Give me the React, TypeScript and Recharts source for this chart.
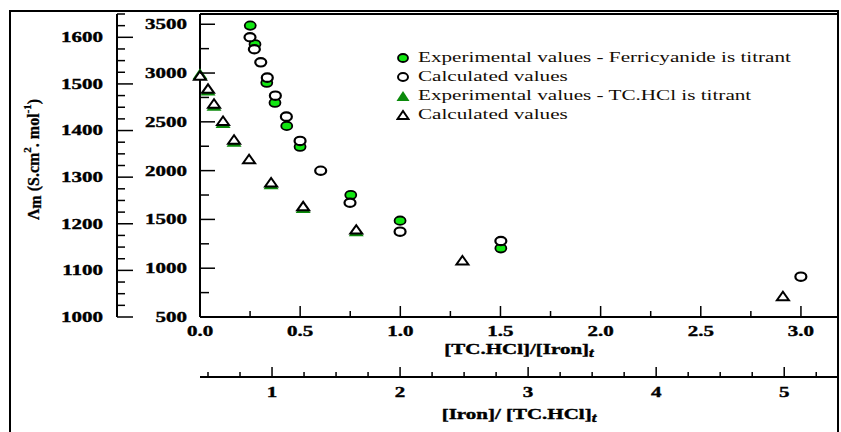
import React from 'react';
import { ScatterChart, Scatter, XAxis, YAxis, Legend } from 'recharts';

// Ferricyanide is titrant: x = [Iron]/[TC.HCl]t, y on the inner axis (500 - 3500)
const feRatioExp = [0.83, 0.867, 0.959, 1.023, 1.115, 1.219, 1.615, 2.0, 2.787];
const feLambdaExp = [3486, 3295, 2901, 2696, 2458, 2245, 1750, 1487, 1204];
const feRatioCalc = [0.828, 0.862, 0.912, 0.963, 1.026, 1.112, 1.219, 1.38, 1.609, 2.0, 2.787, 5.13];
const feLambdaCalc = [3367, 3244, 3110, 2953, 2768, 2553, 2304, 1999, 1671, 1374, 1279, 913];

// TC.HCl is titrant: x = [TC.HCl]/[Iron]t, y on the outer axis (1000 - 1600)
const tcRatioExp = [0.0, 0.04, 0.07, 0.115, 0.17, 0.355, 0.515, 0.78];
const tcLambdaExp = [1522, 1487, 1454, 1417, 1377, 1286, 1235, 1185];
const tcRatioCalc = [0.0, 0.04, 0.07, 0.115, 0.17, 0.245, 0.355, 0.515, 0.78, 1.31, 2.91];
const tcLambdaCalc = [1518, 1490, 1458, 1421, 1381, 1339, 1289, 1238, 1188, 1122, 1045];

const seriesNames = [
  'Experimental values - Ferricyanide is titrant',
  'Calculated values',
  'Experimental values - TC.HCl is titrant',
  'Calculated values',
];

const steps = (from: number, to: number, step: number) => {
  const out: number[] = [];
  for (let v = from; v <= to + 1e-9; v += step) out.push(Math.round(v * 1000) / 1000);
  return out;
};

const outerTicks = steps(1000, 1650, 25);
const innerTicks = steps(500, 3500, 250);
const ratioTicks = steps(0, 3.0, 0.25);
const ironTicks = steps(0.5, 5.25, 0.25);

const toPoints = (xs: number[], ys: number[]) => xs.map((x, i) => ({ x, y: ys[i] }));

const GREEN = '#12e612';
const DARK_GREEN = '#0b8a0b';
const FONT = "'Liberation Serif', 'Times New Roman', serif";

const isMultiple = (v: number, m: number) => Math.abs(v / m - Math.round(v / m)) < 1e-6;

// bold, horizontally stretched label text like the scanned figure
const Stretch = ({ x, y, anchor = 'middle', size = 15, children }: any) => (
  <text
    transform={`translate(${x},${y}) scale(1.4,1)`}
    textAnchor={anchor}
    dominantBaseline="central"
    fontFamily={FONT}
    fontWeight="bold"
    fontSize={size}
    fill="#000"
    stroke="#000"
    strokeWidth={0.4}
  >
    {children}
  </text>
);

const OuterTick = ({ x, y, payload }: any) => {
  const major = isMultiple(payload.value, 100);
  return (
    <g>
      <line x1={x} y1={y} x2={x + (major ? 16 : 8)} y2={y} stroke="#000" strokeWidth={1.5} />
      {major && payload.value <= 1600 && <Stretch x={x - 14} y={y} anchor="end">{payload.value}</Stretch>}
    </g>
  );
};

const InnerTick = ({ x, y, payload }: any) => {
  const major = isMultiple(payload.value, 500);
  return (
    <g>
      <line x1={x} y1={y} x2={x + (major ? 15 : 9)} y2={y} stroke="#000" strokeWidth={1.5} />
      {major && <Stretch x={x - 13} y={y} anchor="end">{payload.value}</Stretch>}
    </g>
  );
};

const RatioTick = ({ x, y, payload }: any) => {
  const major = isMultiple(payload.value, 0.5);
  return (
    <g>
      <line x1={x} y1={y} x2={x} y2={y - (major ? 11 : 6)} stroke="#000" strokeWidth={1.5} />
      {major && <Stretch x={x} y={y + 14}>{payload.value.toFixed(1)}</Stretch>}
    </g>
  );
};

const IronTick = ({ x, y, payload }: any) => {
  const major = isMultiple(payload.value, 1);
  return (
    <g>
      <line x1={x} y1={y} x2={x} y2={y - (major ? 10 : 5)} stroke="#000" strokeWidth={1.5} />
      {major && <Stretch x={x} y={y + 15}>{payload.value}</Stretch>}
    </g>
  );
};

const ExpCircle = ({ cx, cy }: any) => (
  <ellipse cx={cx} cy={cy} rx={5.5} ry={4.2} fill={GREEN} stroke="#000" strokeWidth={1.8} />
);
const CalcCircle = ({ cx, cy }: any) => (
  <ellipse cx={cx} cy={cy} rx={5.5} ry={4.2} fill="#fff" stroke="#000" strokeWidth={2.2} />
);
const triPath = (cx: number, cy: number, w: number, h: number) =>
  `M${cx - w / 2},${cy + h / 2} L${cx + w / 2},${cy + h / 2} L${cx},${cy - h / 2} Z`;
const ExpTriangle = ({ cx, cy }: any) => <path d={triPath(cx, cy, 15, 11)} fill={DARK_GREEN} />;
const CalcTriangle = ({ cx, cy }: any) => (
  <path d={triPath(cx, cy, 12, 8.5)} fill="#fff" stroke="#000" strokeWidth={2} strokeLinejoin="miter" />
);

const legendMarkers = [
  <ellipse key="a" cx={7} cy={6} rx={5} ry={4} fill={GREEN} stroke="#000" strokeWidth={1.8} />,
  <ellipse key="b" cx={7} cy={6} rx={5} ry={4} fill="#fff" stroke="#000" strokeWidth={2} />,
  <path key="c" d={triPath(7, 6, 13, 10)} fill={DARK_GREEN} />,
  <path key="d" d={triPath(7, 6, 11, 8)} fill="#fff" stroke="#000" strokeWidth={2} />,
];

const renderLegend = () => (
  <div style={{ fontFamily: FONT, fontSize: 15, color: '#140d05' }}>
    {seriesNames.map((name, i) => (
      <div key={i} style={{ display: 'flex', alignItems: 'center', height: 19 }}>
        <svg width={14} height={12}>{legendMarkers[i]}</svg>
        <span
          style={{
            marginLeft: 8,
            display: 'inline-block',
            whiteSpace: 'nowrap',
            transform: 'scaleX(1.41)',
            transformOrigin: 'left center',
          }}
        >
          {name}
        </span>
      </div>
    ))}
  </div>
);

const YTitle = ({ viewBox }: any) => {
  const x = viewBox.x + 23;
  const y = viewBox.y + viewBox.height / 2 - 6;
  return (
    <text
      transform={`translate(${x},${y}) rotate(-90)`}
      textAnchor="middle"
      dominantBaseline="central"
      fontFamily={FONT}
      fontWeight="bold"
      fontSize={16}
      fill="#000"
      stroke="#000"
      strokeWidth={0.3}
    >
      Λ<tspan dy={2}>m</tspan>
      <tspan dy={-2}> (S.cm</tspan>
      <tspan dy={-6} fontSize={11}>2</tspan>
      <tspan dy={6}>. mol</tspan>
      <tspan dy={-6} fontSize={11}>-1</tspan>
      <tspan dy={6}>)</tspan>
    </text>
  );
};

const RatioTitle = ({ viewBox }: any) => (
  <Stretch x={viewBox.x + viewBox.width / 2} y={viewBox.y + 32}>
    [TC.HCl]/[Iron]<tspan dy={4} fontSize={12} fontStyle="italic">t</tspan>
  </Stretch>
);

const IronTitle = ({ viewBox }: any) => (
  <Stretch x={viewBox.x + viewBox.width / 2} y={viewBox.y + 37}>
    [Iron]/ [TC.HCl]<tspan dy={4} fontSize={12} fontStyle="italic">t</tspan>
  </Stretch>
);

export default function App() {
  const axisLine = { stroke: '#000', strokeWidth: 2 };
  return (
    <div style={{ position: 'absolute', left: 0, top: 0, width: 841, height: 432, background: '#fff' }}>
      <ScatterChart width={841} height={432} margin={{ top: 14, right: 3, bottom: 0, left: 10 }}>
        <XAxis
          xAxisId="a_ratio"
          type="number"
          dataKey="x"
          domain={[0, 3.185]}
          ticks={ratioTicks}
          height={60}
          axisLine={axisLine}
          tickLine={false}
          tickSize={0}
          tickMargin={0}
          tick={<RatioTick />}
          interval={0}
          label={{ content: RatioTitle }}
        />
        <XAxis
          xAxisId="b_iron"
          type="number"
          dataKey="x"
          domain={[0.4375, 5.42]}
          ticks={ironTicks}
          height={55}
          axisLine={axisLine}
          tickLine={false}
          tickSize={0}
          tickMargin={0}
          tick={<IronTick />}
          interval={0}
          label={{ content: IronTitle }}
        />
        <YAxis
          yAxisId="inner"
          type="number"
          dataKey="y"
          domain={[500, 3605]}
          ticks={innerTicks}
          width={83}
          axisLine={axisLine}
          tickLine={false}
          tickSize={0}
          tickMargin={0}
          tick={<InnerTick />}
          interval={0}
        />
        <YAxis
          yAxisId="outer"
          type="number"
          dataKey="y"
          domain={[1000, 1650]}
          ticks={outerTicks}
          width={107}
          axisLine={axisLine}
          tickLine={false}
          tickSize={0}
          tickMargin={0}
          tick={<OuterTick />}
          interval={0}
          label={{ content: YTitle }}
        />
        <Legend
          layout="vertical"
          align="center"
          verticalAlign="middle"
          content={renderLegend}
          wrapperStyle={{ left: 396, top: 48, width: 'auto' }}
        />
        <Scatter
          name={seriesNames[0]}
          data={toPoints(feRatioExp, feLambdaExp)}
          xAxisId="b_iron"
          yAxisId="inner"
          fill={GREEN}
          shape={(p: any) => <ExpCircle {...p} />}
          isAnimationActive={false}
        />
        <Scatter
          name={seriesNames[1]}
          data={toPoints(feRatioCalc, feLambdaCalc)}
          xAxisId="b_iron"
          yAxisId="inner"
          fill="#fff"
          shape={(p: any) => <CalcCircle {...p} />}
          isAnimationActive={false}
        />
        <Scatter
          name={seriesNames[2]}
          data={toPoints(tcRatioExp, tcLambdaExp)}
          xAxisId="a_ratio"
          yAxisId="outer"
          fill={DARK_GREEN}
          shape={(p: any) => <ExpTriangle {...p} />}
          isAnimationActive={false}
        />
        <Scatter
          name={seriesNames[3]}
          data={toPoints(tcRatioCalc, tcLambdaCalc)}
          xAxisId="a_ratio"
          yAxisId="outer"
          fill="#fff"
          shape={(p: any) => <CalcTriangle {...p} />}
          isAnimationActive={false}
        />
      </ScatterChart>
      {/* figure border and plot frame */}
      <div
        style={{
          position: 'absolute', left: 9, top: 10, width: 830, height: 440, boxSizing: 'border-box',
          borderLeft: '2px solid #000', borderTop: '2px solid #000', borderRight: '2px solid #000',
          pointerEvents: 'none',
        }}
      />
      <div
        style={{
          position: 'absolute', left: 200, top: 13, width: 639, height: 304, boxSizing: 'border-box',
          borderTop: '2px solid #000', borderRight: '2px solid #000', pointerEvents: 'none',
        }}
      />
    </div>
  );
}
